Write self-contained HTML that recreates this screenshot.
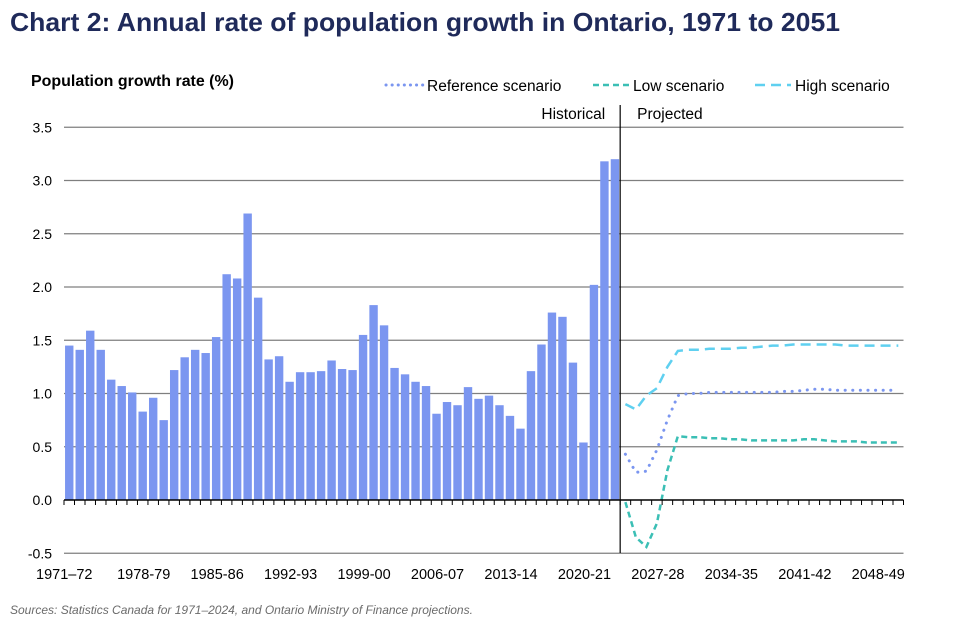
<!DOCTYPE html>
<html><head><meta charset="utf-8"><style>
body{margin:0;background:#fff;font-family:"Liberation Sans",Arial,sans-serif}
svg text{font-family:"Liberation Sans",Arial,sans-serif}
</style></head><body>
<svg id="c" width="960" height="624" xmlns="http://www.w3.org/2000/svg">
<text x="10" y="31" font-size="26" font-weight="bold" fill="#1f2a5a" textLength="830" lengthAdjust="spacingAndGlyphs">Chart 2: Annual rate of population growth in Ontario, 1971 to 2051</text>
<text x="31" y="86" font-size="16" font-weight="bold" fill="#000" textLength="203" lengthAdjust="spacingAndGlyphs">Population growth rate (%)</text>
<g>
<g><line x1="386" y1="85" x2="424" y2="85" stroke="#7b96f0" stroke-width="3" stroke-dasharray="0.1 6" stroke-linecap="round"/><text x="427" y="91" font-size="15.5">Reference scenario</text></g>
<g><line x1="593" y1="85" x2="630" y2="85" stroke="#3bbfb5" stroke-width="2.5" stroke-dasharray="6 4"/><text x="633" y="91" font-size="15.5">Low scenario</text></g>
<g><line x1="755" y1="85" x2="791" y2="85" stroke="#5fd0f0" stroke-width="2.5" stroke-dasharray="10 6"/><text x="795" y="91" font-size="15.5">High scenario</text></g>
</g>
<g id="grid"></g><g id="bars"></g><g id="lines"></g><g id="axes"></g>
<text x="10" y="614" font-size="12" font-style="italic" fill="#6b6b6b">Sources: Statistics Canada for 1971–2024, and Ontario Ministry of Finance projections.</text>
</svg>
<script>
const startYear = 1971;
const histValues = [1.45,1.41,1.59,1.41,1.13,1.07,1.01,0.83,0.96,0.75,1.22,1.34,1.41,1.38,1.53,2.12,2.08,2.69,1.90,1.32,1.35,1.11,1.20,1.20,1.21,1.31,1.23,1.22,1.55,1.83,1.64,1.24,1.18,1.11,1.07,0.81,0.92,0.89,1.06,0.95,0.98,0.89,0.79,0.67,1.21,1.46,1.76,1.72,1.29,0.54,2.02,3.18,3.20];
const refValues = [0.43,0.26,0.27,0.47,0.75,0.98,1.00,1.00,1.01,1.01,1.01,1.01,1.01,1.01,1.01,1.02,1.02,1.03,1.04,1.04,1.03,1.03,1.03,1.03,1.03,1.03,1.03];
const lowValues = [-0.02,-0.35,-0.44,-0.22,0.28,0.60,0.59,0.59,0.58,0.58,0.57,0.57,0.56,0.56,0.56,0.56,0.56,0.57,0.57,0.56,0.55,0.55,0.55,0.54,0.54,0.54,0.54];
const highValues = [0.90,0.85,0.98,1.05,1.25,1.40,1.41,1.41,1.42,1.42,1.42,1.43,1.43,1.44,1.45,1.45,1.46,1.46,1.46,1.46,1.46,1.45,1.45,1.45,1.45,1.45,1.45];
const yTicks = [-0.5,0.0,0.5,1.0,1.5,2.0,2.5,3.0,3.5];
const NS='http://www.w3.org/2000/svg';
const nCat = histValues.length + refValues.length;
const x0=64, x1=903.5, step=(x1-x0)/nCat;
const yScale=v=>500-v*106.5;
const xCenter=i=>x0+step*(i+0.5);
function mk(tag,attrs,parent){const e=document.createElementNS(NS,tag);for(const k in attrs)e.setAttribute(k,attrs[k]);parent.appendChild(e);return e;}
const grid=document.getElementById('grid'),bars=document.getElementById('bars'),lines=document.getElementById('lines'),axes=document.getElementById('axes');
yTicks.forEach(t=>{
  if(t!==0){const l=mk('line',{x1:x0,x2:x1,y1:yScale(t),y2:yScale(t),stroke:'#7f7f7f','stroke-width':1.3},grid);
  
  }
  const tx=mk('text',{x:52,y:yScale(t)+5,'font-size':14,'text-anchor':'end'},axes);
  tx.textContent=t.toFixed(1);
  
  
});
histValues.forEach((v,i)=>{
  const r=mk('rect',{x:xCenter(i)-4.2,width:8.4,y:Math.min(yScale(v),yScale(0)),height:Math.abs(yScale(v)-yScale(0)),fill:'#7b96f0'},bars);
  
  
});
function series(vals,style,name){
  const off=histValues.length;
  const d=vals.map((v,i)=>(i?'L':'M')+xCenter(off+i).toFixed(1)+','+yScale(v).toFixed(1)).join(' ');
  const p=mk('path',Object.assign({d:d,fill:'none'},style),lines);
  
  
}
series(highValues,{stroke:'#5fd0f0','stroke-width':2.5,'stroke-dasharray':'10 6'},'high-scenario-line');
series(lowValues,{stroke:'#3bbfb5','stroke-width':2.5,'stroke-dasharray':'6 4'},'low-scenario-line');
series(refValues,{stroke:'#7b96f0','stroke-width':3,'stroke-dasharray':'0.1 7.5','stroke-linecap':'round'},'reference-scenario-line');
const zl=mk('line',{x1:x0,x2:x1,y1:500,y2:500,stroke:'#000','stroke-width':1.5},axes);


for(let i=0;i<=nCat;i++){
  const t=mk('line',{x1:x0+step*i,x2:x0+step*i,y1:500,y2:505,stroke:'#000','stroke-width':1},axes);
  
  
}
for(let i=0;i<nCat;i+=7){
  const y=startYear+i;
  const lab=y+(i===0?'–':'-')+String((y+1)%100).padStart(2,'0');
  const tx=mk('text',{x:xCenter(i)+(i===0?-5:1),y:579,'font-size':14.5,'text-anchor':'middle'},axes);
  tx.textContent=lab;
  
  
}
const dx=x0+step*histValues.length;
const dv=mk('line',{x1:dx,x2:dx,y1:105,y2:553,stroke:'#000','stroke-width':1.2},axes);


const th=mk('text',{x:dx-15,y:119,'font-size':15.5,'text-anchor':'end'},axes);th.textContent='Historical';


const tp=mk('text',{x:dx+17,y:119,'font-size':15.5},axes);tp.textContent='Projected';


</script>
</body></html>
